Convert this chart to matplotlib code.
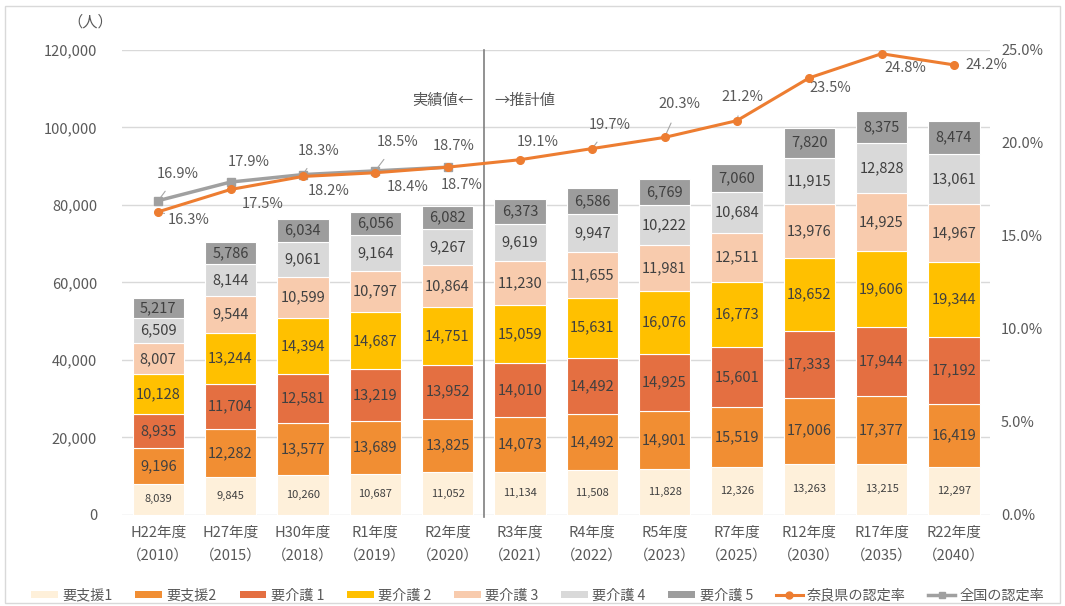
"""
Nara prefecture: certified people needing long-term care, by level,
with certification rate (Nara vs national).
"""

import matplotlib.pyplot as plt
import numpy as np
from matplotlib.lines import Line2D
from matplotlib.patches import Patch, Rectangle

plt.rcParams["font.family"] = ["Noto Sans CJK JP", "DejaVu Sans"]

years = ["H22年度\n（2010）", "H27年度\n（2015）", "H30年度\n（2018）", "R1年度\n（2019）",
         "R2年度\n（2020）", "R3年度\n（2021）", "R4年度\n（2022）", "R5年度\n（2023）",
         "R7年度\n（2025）", "R12年度\n（2030）", "R17年度\n（2035）", "R22年度\n（2040）"]

levels = ["要支援1", "要支援2", "要介護 1", "要介護 2", "要介護 3", "要介護 4", "要介護 5"]
support1 = [8039, 9845, 10260, 10687, 11052, 11134, 11508, 11828, 12326, 13263, 13215, 12297]
support2 = [9196, 12282, 13577, 13689, 13825, 14073, 14492, 14901, 15519, 17006, 17377, 16419]
care1 = [8935, 11704, 12581, 13219, 13952, 14010, 14492, 14925, 15601, 17333, 17944, 17192]
care2 = [10128, 13244, 14394, 14687, 14751, 15059, 15631, 16076, 16773, 18652, 19606, 19344]
care3 = [8007, 9544, 10599, 10797, 10864, 11230, 11655, 11981, 12511, 13976, 14925, 14967]
care4 = [6509, 8144, 9061, 9164, 9267, 9619, 9947, 10222, 10684, 11915, 12828, 13061]
care5 = [5217, 5786, 6034, 6056, 6082, 6373, 6586, 6769, 7060, 7820, 8375, 8474]

nara_rate = [16.3, 17.5, 18.2, 18.4, 18.7, 19.1, 19.7, 20.3, 21.2, 23.5, 24.8, 24.2]
national_rate = [16.9, 17.9, 18.3, 18.5, 18.7]

colors = ["#FEF0DA", "#F18E33", "#E46F41", "#FFC000", "#F8CBAD", "#D9D9D9", "#9D9D9D"]
nara_color = "#ED7D31"
national_color = "#A0A0A0"
text_color = "#595959"
label_color = "#404040"

# label offsets in pixels (dx, dy) and whether to draw a leader line
nara_offsets = [(30, -8), (32, -15), (26, -15), (32, -14), (14, -18),
                (18, 18), (18, 24), (15, 33), (6, 24), (21, -10), (24, -14), (12, 0)]
nara_leader = [True, True, False, True, False, True, True, True, True, False, False, False]
national_offsets = [(20, 27), (18, 20), (16, 24), (22, 29), (6, 21)]

fig = plt.figure(figsize=(10.65, 6.06), dpi=100)
ax = fig.add_axes([0.1146, 0.1502, 0.815, 0.7673])
ax2 = ax.twinx()

x = np.arange(len(years))
series = [support1, support2, care1, care2, care3, care4, care5]
bottom = np.zeros(len(years))
for i, (vals, col) in enumerate(zip(series, colors)):
    bars = ax.bar(x, vals, 0.71, bottom=bottom, color=col, edgecolor="white",
                  linewidth=0.8, zorder=2)
    fs = 8 if i == 0 else 10.5
    ax.bar_label(bars, labels=[f"{v:,}" for v in vals], label_type="center",
                 fontsize=fs, color=label_color)
    bottom += np.array(vals)

ax.set_xlim(-0.5, len(years) - 0.5)
ax.set_ylim(0, 120000)
ax.set_yticks(range(0, 120001, 20000))
ax.set_yticklabels([f"{v:,}" for v in range(0, 120001, 20000)])
ax.yaxis.grid(True, color="#D9D9D9", linewidth=1, zorder=0)
ax.set_axisbelow(True)
ax.set_xticks(x)
ax.set_xticklabels(years, linespacing=1.75)
ax.tick_params(axis="both", length=0, colors=text_color, labelsize=10.5)
ax.tick_params(axis="x", pad=8)
ax.tick_params(axis="y", pad=18)
for s in ax.spines.values():
    s.set_visible(False)

ax.axvline(4.5, ymin=-0.005, ymax=1.0, color="#7F7F7F", linewidth=1.2, zorder=3,
           clip_on=False)
ax.text(4.35, 107000, "実績値←", ha="right", va="center", fontsize=11, color=text_color)
ax.text(4.65, 107000, "→推計値", ha="left", va="center", fontsize=11, color=text_color)
fig.text(0.085, 0.963, "（人）", ha="center", va="center", fontsize=11, color=text_color)

ax2.set_ylim(0, 25)
ax2.set_yticks(np.arange(0, 25.1, 5))
ax2.set_yticklabels([f"{v:.1f}%" for v in np.arange(0, 25.1, 5)])
ax2.tick_params(axis="y", length=0, colors=text_color, labelsize=10.5, pad=8)
for s in ax2.spines.values():
    s.set_visible(False)

ax2.plot(x[:len(national_rate)], national_rate, color=national_color, linewidth=2.5,
         marker="s", markersize=6, zorder=4)
ax2.plot(x, nara_rate, color=nara_color, linewidth=2.2, marker="o", markersize=5.5,
         zorder=5)

for xi, v, (dx, dy), lead in zip(x, nara_rate, nara_offsets, nara_leader):
    ha = "left" if xi == len(years) - 1 else "center"
    ax2.annotate(f"{v:.1f}%", (xi, v), xytext=(dx, dy), textcoords="offset pixels",
                 ha=ha, va="center", fontsize=10.5, color=text_color,
                 arrowprops=dict(arrowstyle="-", color="#A6A6A6", lw=0.8,
                                 shrinkA=7, shrinkB=2) if lead else None)
for xi, v, (dx, dy) in zip(x, national_rate, national_offsets):
    ax2.annotate(f"{v:.1f}%", (xi, v), xytext=(dx, dy), textcoords="offset pixels",
                 ha="center", va="center", fontsize=10.5, color=text_color,
                 arrowprops=dict(arrowstyle="-", color="#A6A6A6", lw=0.8,
                                 shrinkA=7, shrinkB=2))

handles = [Patch(facecolor=c, edgecolor="none") for c in colors]
handles.append(Line2D([], [], color=nara_color, lw=2.2, marker="o", markersize=5))
handles.append(Line2D([], [], color=national_color, lw=2.5, marker="s", markersize=5))
names = levels + ["奈良県の認定率", "全国の認定率"]
leg = fig.legend(handles, names, loc="center", bbox_to_anchor=(0.505, 0.017), ncol=9,
                 frameon=False, fontsize=10.2, handlelength=1.9, handleheight=0.45,
                 columnspacing=1.6, handletextpad=0.3)
for t in leg.get_texts():
    t.set_color(text_color)

fig.patches.append(Rectangle((0.005, 0.005), 0.99, 0.985, transform=fig.transFigure,
                             fill=False, edgecolor="#D9D9D9", linewidth=1))

fig.savefig("out.png", dpi=100)
